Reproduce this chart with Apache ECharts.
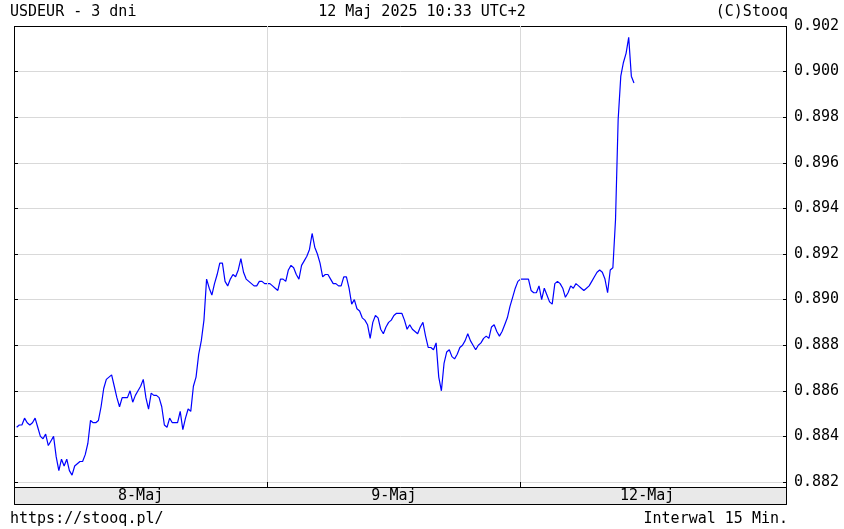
<!DOCTYPE html>
<html>
<head>
<meta charset="utf-8">
<script src="https://cdn.jsdelivr.net/npm/echarts@6/dist/echarts.min.js"></script>
<style>
html,body{margin:0;padding:0;background:#fff;}
#chart{width:844px;height:529px;}
</style>
</head>
<body>
<div id="chart"></div>
<script>
// 15-minute USD/EUR quotes, three sessions
const dayLabels = ['8-Maj', '9-Maj', '12-Maj'];
const may8 = [
0.8844,0.8845,0.8845,0.8848,0.8846,0.8845,0.8846,0.8848,0.8844,0.8840,0.8839,0.8841,
0.8836,0.8838,0.8840,0.8831,0.8825,0.8830,0.8827,0.8830,0.8825,0.8823,0.8827,0.8828,
0.8829,0.8829,0.8832,0.8837,0.8847,0.8846,0.8846,0.8847,0.8853,0.8861,0.8865,0.8866,
0.8867,0.8862,0.8857,0.8853,0.8857,0.8857,0.8857,0.8860,0.8855,0.8858,0.8860,0.8862,
0.8865,0.8857,0.8852,0.8859,0.8858,0.8858,0.8857,0.8853,0.8845,0.8844,0.8848,0.8846,
0.8846,0.8846,0.8851,0.8843,0.8848,0.8852,0.8851,0.8862,0.8866,0.8876,0.8882,0.8891,
0.8909,0.8905,0.8902,0.8907,0.8911,0.8916,0.8916,0.8908,0.8906,0.8909,0.8911,0.8910,
0.8913,0.8918,0.8912,0.8909,0.8908,0.8907,0.8906,0.8906,0.8908,0.8908,0.8907,0.8907
];
const may9 = [
0.8907,0.8906,0.8905,0.8904,0.8909,0.8909,0.8908,0.8913,0.8915,0.8914,0.8911,0.8909,
0.8915,0.8917,0.8919,0.8922,0.8929,0.8923,0.8920,0.8916,0.8910,0.8911,0.8911,0.8909,
0.8907,0.8907,0.8906,0.8906,0.8910,0.8910,0.8905,0.8898,0.8900,0.8896,0.8895,0.8892,
0.8891,0.8889,0.8883,0.8890,0.8893,0.8892,0.8887,0.8885,0.8888,0.8890,0.8891,0.8893,
0.8894,0.8894,0.8894,0.8891,0.8887,0.8889,0.8887,0.8886,0.8885,0.8888,0.8890,0.8884,
0.8879,0.8879,0.8878,0.8881,0.8866,0.8860,0.8872,0.8877,0.8878,0.8875,0.8874,0.8876,
0.8879,0.8880,0.8882,0.8885,0.8882,0.8880,0.8878,0.8880,0.8881,0.8883,0.8884,0.8883,
0.8888,0.8889,0.8886,0.8884,0.8886,0.8889,0.8892,0.8897,0.8901,0.8905,0.8908,0.8909
];
const may12 = [
0.8909,0.8909,0.8909,0.8904,0.8903,0.8903,0.8906,0.8900,0.8905,0.8902,0.8899,0.8898,
0.8907,0.8908,0.8907,0.8905,0.8901,0.8903,0.8906,0.8905,0.8907,0.8906,0.8905,0.8904,
0.8905,0.8906,0.8908,0.8910,0.8912,0.8913,0.8912,0.8909,0.8903,0.8913,0.8914,0.8935,
0.8979,0.8998,0.9004,0.9008,0.9015,0.8998,0.8995
];
const yTicks = { min: 0.882, max: 0.902, step: 0.002 };
const slotsPerDay = 96;
const totalSlots = 294;

// category slots (15-minute steps)
const categories = [];
for (let i = 0; i < totalSlots; i++) {
  const d = Math.floor(i / slotsPerDay);
  const m = (i % slotsPerDay) * 15;
  const hh = String(Math.floor(m / 60)).padStart(2, '0');
  const mm = String(m % 60).padStart(2, '0');
  categories.push((dayLabels[d] || '') + ' ' + hh + ':' + mm);
}
const values = may8.concat(may9, may12);
const seriesData = values.map((v, k) => [k + 1, v]);

const FONT = 'DejaVu Sans Mono';
const FS = 15;
const chart = echarts.init(document.getElementById('chart'), null, { renderer: 'canvas' });
const isDayStart = (idx) => idx > 0 && idx % slotsPerDay === 0 && idx < 3 * slotsPerDay;

const option = {
  animation: false,
  backgroundColor: '#fff',
  grid: { left: 14, right: 57, top: 26, bottom: 47, containLabel: false },
  xAxis: {
    type: 'category',
    data: categories,
    boundaryGap: false,
    offset: 5,
    z: 20,
    axisLine: { show: false },
    axisTick: { show: true, inside: true, length: 5, interval: (idx) => isDayStart(idx), lineStyle: { color: '#000' } },
    axisLabel: {
      show: true,
      interval: (idx) => idx % slotsPerDay === slotsPerDay / 2,
      formatter: (val, idx) => dayLabels[Math.floor(idx / slotsPerDay)],
      margin: 2,
      color: '#000',
      fontFamily: FONT,
      fontSize: FS
    },
    splitLine: { show: true, interval: (idx) => isDayStart(idx), lineStyle: { color: '#d9d9d9', width: 1 } }
  },
  yAxis: [
    {
      type: 'value',
      position: 'right',
      min: yTicks.min, max: yTicks.max, interval: yTicks.step,
      axisLine: { show: false },
      axisTick: { show: true, inside: true, length: 4, lineStyle: { color: '#000' } },
      axisLabel: { formatter: (v) => v.toFixed(3), margin: 7, color: '#000', fontFamily: FONT, fontSize: FS },
      splitLine: { show: true, lineStyle: { color: '#d9d9d9', width: 1 } }
    },
    {
      type: 'value',
      position: 'left',
      min: yTicks.min, max: yTicks.max, interval: yTicks.step,
      axisLine: { show: false },
      axisTick: { show: true, inside: true, length: 4, lineStyle: { color: '#000' } },
      axisLabel: { show: false },
      splitLine: { show: false }
    }
  ],
  series: [{
    type: 'line',
    data: seriesData,
    yAxisIndex: 0,
    showSymbol: false,
    symbol: 'none',
    lineStyle: { color: '#0000ff', width: 1.2 },
    z: 5
  }],
  graphic: []
};
chart.setOption(option);

// frame, date band, captions
const x96 = chart.convertToPixel({ xAxisIndex: 0 }, 96);
const x192 = chart.convertToPixel({ xAxisIndex: 0 }, 192);
const txt = (text, x, y, align) => ({
  type: 'text', x: x, y: y, silent: true,
  style: { text: text, fill: '#000', font: FS + 'px ' + FONT, textAlign: align, textVerticalAlign: 'middle' }
});
chart.setOption({
  graphic: [
    { type: 'rect', shape: { x: 14.5, y: 487.5, width: 772, height: 17 }, style: { fill: '#e9e9e9', stroke: '#000', lineWidth: 1 }, z: 1 },
    { type: 'line', shape: { x1: Math.round(x96) + 0.5, y1: 482, x2: Math.round(x96) + 0.5, y2: 483 }, style: { stroke: '#d9d9d9', lineWidth: 1 }, z: 1 },
    { type: 'line', shape: { x1: Math.round(x192) + 0.5, y1: 482, x2: Math.round(x192) + 0.5, y2: 483 }, style: { stroke: '#d9d9d9', lineWidth: 1 }, z: 1 },
    { type: 'rect', shape: { x: 14.5, y: 26.5, width: 772, height: 478 }, style: { fill: 'none', stroke: '#000', lineWidth: 1 }, z: 10 },
    txt('USDEUR - 3 dni', 10, 12, 'left'),
    txt('12 Maj 2025 10:33 UTC+2', 422, 12, 'center'),
    txt('(C)Stooq', 788, 12, 'right'),
    txt('https://stooq.pl/', 10, 519, 'left'),
    txt('Interwal 15 Min.', 788, 519, 'right')
  ]
});
</script>
</body>
</html>
